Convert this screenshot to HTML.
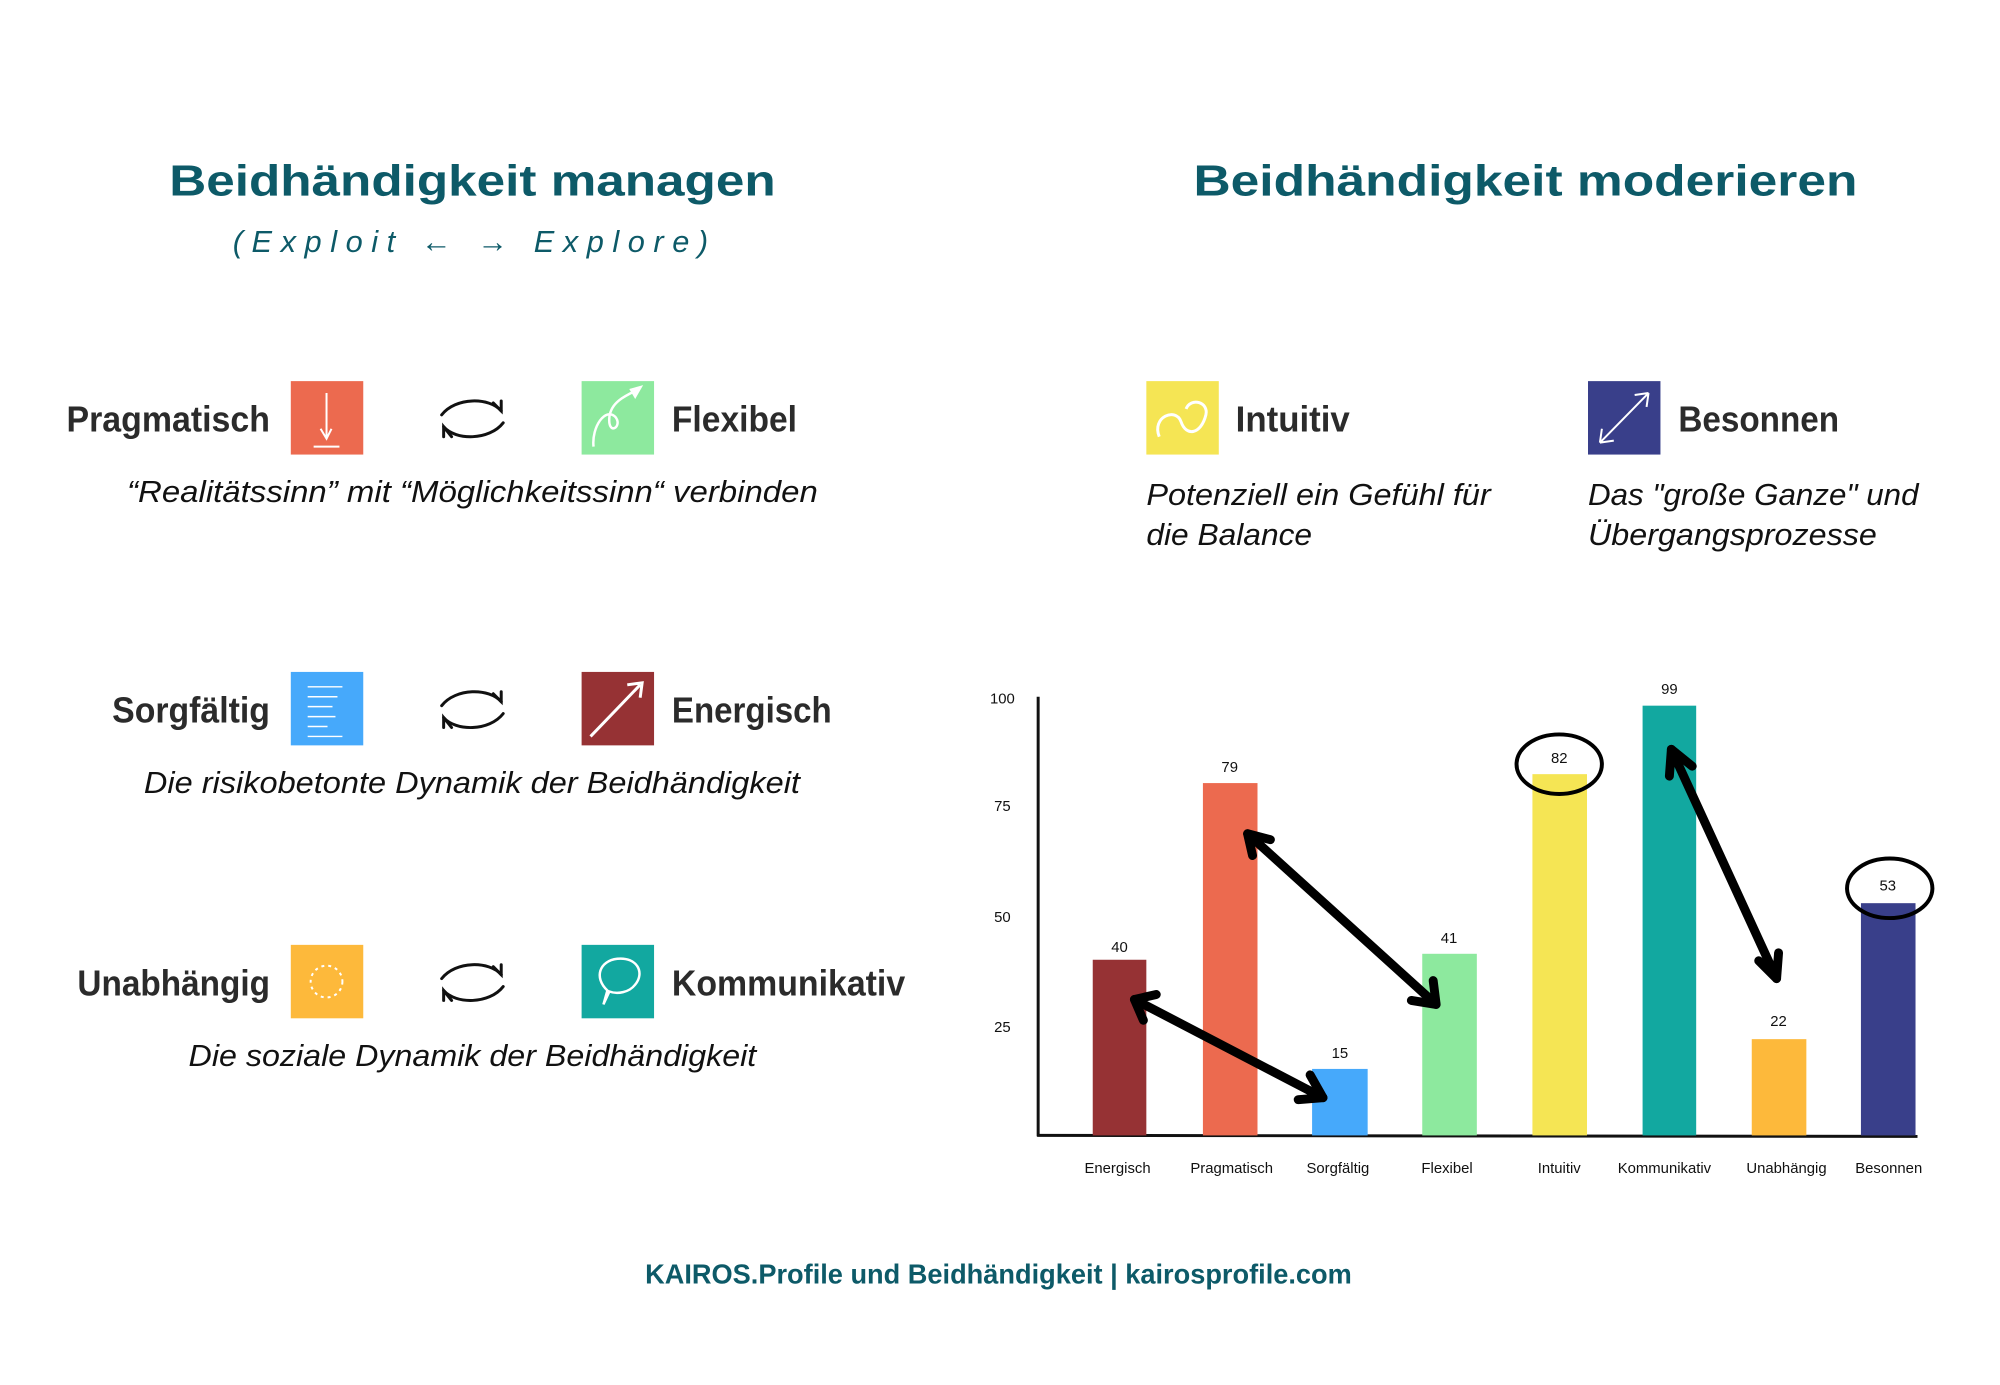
<!DOCTYPE html>
<html><head><meta charset="utf-8"><style>
html,body{margin:0;padding:0;background:#fff;}
svg{display:block;}
text{font-family:"Liberation Sans",sans-serif;}
.t{font-weight:bold;fill:#0d5a68;font-size:44px;}
.l{font-weight:bold;fill:#2b2b2b;font-size:36px;}
.q{font-style:italic;fill:#111;font-size:31px;}
.c{font-size:15px;fill:#111;}
</style></head><body>
<svg width="2000" height="1385" viewBox="0 0 2000 1385" xmlns="http://www.w3.org/2000/svg">
<defs>
<g id="swap" fill="none" stroke="#111" stroke-width="3" stroke-linecap="round">
<path d="M4 18 C18 0 52 0 64 14"/><path d="M56 6 L64 14 L64 4"/>
<path d="M66 26 C52 44 18 44 6 30"/><path d="M14 40 L6 30 L6 40"/>
</g>
</defs>
<g transform="scale(0.9925)">
<text class="t" x="476" y="197" text-anchor="middle" textLength="611" lengthAdjust="spacingAndGlyphs">Beidhändigkeit managen</text>
<text x="474" y="254" text-anchor="middle" font-size="31" font-style="italic" fill="#0d5a68" textLength="479" lengthAdjust="spacing">(Exploit ← → Explore)</text>
<text class="t" x="1537" y="197" text-anchor="middle" textLength="669" lengthAdjust="spacingAndGlyphs">Beidhändigkeit moderieren</text>

<text class="l" x="272" y="435" text-anchor="end" textLength="205" lengthAdjust="spacingAndGlyphs">Pragmatisch</text>
<rect x="293" y="384" width="73" height="74" fill="#ec6a4f"/>
<path d="M329 396 V440 M323 432 L329 442 L334 432 M316 450 H342" stroke="#fff" stroke-width="2" fill="none"/>
<use href="#swap" x="441" y="400"/>
<rect x="586" y="384" width="73" height="74" fill="#8de99e"/>
<path d="M598 450 C596 430 610 410 620 420 C628 430 612 440 614 420 C616 404 632 398 644 392" stroke="#fff" stroke-width="2.5" fill="none"/>
<path d="M634 392 L648 388 L640 402 Z" fill="#fff"/>
<text class="l" x="677" y="435" textLength="126" lengthAdjust="spacingAndGlyphs">Flexibel</text>
<text class="q" x="128" y="506" textLength="696" lengthAdjust="spacingAndGlyphs">“Realitätssinn” mit “Möglichkeitssinn“ verbinden</text>

<text class="l" x="272" y="728" text-anchor="end" textLength="159" lengthAdjust="spacingAndGlyphs">Sorgfältig</text>
<rect x="293" y="677" width="73" height="74" fill="#46a9fb"/>
<path d="M310 692 H345 M310 702 H340 M310 712 H335 M310 722 H338 M310 732 H330 M310 742 H345" stroke="#fff" stroke-width="1.5"/>
<use href="#swap" x="441" y="693"/>
<rect x="586" y="677" width="73" height="74" fill="#963234"/>
<path d="M595 742 L645 690 M632 690 L647 688 L645 703" stroke="#fff" stroke-width="3" fill="none"/>
<text class="l" x="677" y="728" textLength="161" lengthAdjust="spacingAndGlyphs">Energisch</text>
<text class="q" x="145" y="799" textLength="661" lengthAdjust="spacingAndGlyphs">Die risikobetonte Dynamik der Beidhändigkeit</text>

<text class="l" x="272" y="1003" text-anchor="end" textLength="194" lengthAdjust="spacingAndGlyphs">Unabhängig</text>
<rect x="293" y="952" width="73" height="74" fill="#fdb93b"/>
<circle cx="329" cy="989" r="16" stroke="#fff" stroke-width="2" stroke-dasharray="3 4" fill="none"/>
<use href="#swap" x="441" y="968"/>
<rect x="586" y="952" width="73" height="74" fill="#12a8a0"/>
<path d="M608 1012 L612 998 C598 985 604 968 622 966 C642 964 650 980 640 992 C634 1000 622 1002 614 999 Z" stroke="#fff" stroke-width="2.5" fill="none"/>
<text class="l" x="677" y="1003" textLength="235" lengthAdjust="spacingAndGlyphs">Kommunikativ</text>
<text class="q" x="190" y="1074" textLength="572" lengthAdjust="spacingAndGlyphs">Die soziale Dynamik der Beidhändigkeit</text>

<rect x="1155" y="384" width="73" height="74" fill="#f5e554"/>
<path d="M1168 440 C1160 420 1185 410 1190 425 C1195 440 1210 438 1215 418 C1218 405 1200 400 1195 412" stroke="#fff" stroke-width="3" fill="none"/>
<text class="l" x="1245" y="435" textLength="115" lengthAdjust="spacingAndGlyphs">Intuitiv</text>
<rect x="1600" y="384" width="73" height="74" fill="#393f8a"/>
<path d="M1612 446 L1661 396 M1612 446 L1614 432 M1612 446 L1626 444 M1661 396 L1647 398 M1661 396 L1659 410" stroke="#fff" stroke-width="2" fill="none"/>
<text class="l" x="1691" y="435" textLength="162" lengthAdjust="spacingAndGlyphs">Besonnen</text>
<text class="q" x="1155" y="509" textLength="347" lengthAdjust="spacingAndGlyphs">Potenziell ein Gefühl für</text>
<text class="q" x="1155" y="549" textLength="167" lengthAdjust="spacingAndGlyphs">die Balance</text>
<text class="q" x="1600" y="509" textLength="333" lengthAdjust="spacingAndGlyphs">Das "große Ganze" und</text>
<text class="q" x="1600" y="549" textLength="291" lengthAdjust="spacingAndGlyphs">Übergangsprozesse</text>

<g class="c" text-anchor="middle">
<text x="1010" y="709">100</text><text x="1010" y="817">75</text><text x="1010" y="929">50</text><text x="1010" y="1040">25</text>
</g>
<line x1="1046" y1="702" x2="1046" y2="1145" stroke="#111" stroke-width="3"/>
<line x1="1045" y1="1144" x2="1932" y2="1145" stroke="#111" stroke-width="3"/>
<g>
<rect x="1101" y="967" width="54" height="177" fill="#963234"/>
<rect x="1212" y="789" width="55" height="355" fill="#ec6a4f"/>
<rect x="1322" y="1077" width="56" height="67" fill="#46a9fb"/>
<rect x="1433" y="961" width="55" height="183" fill="#8de99e"/>
<rect x="1544" y="780" width="55" height="364" fill="#f5e554"/>
<rect x="1655" y="711" width="54" height="433" fill="#12a8a0"/>
<rect x="1765" y="1047" width="55" height="97" fill="#fdb93b"/>
<rect x="1875" y="910" width="55" height="234" fill="#393f8a"/>
</g>
<g class="c" text-anchor="middle">
<text x="1128" y="959">40</text><text x="1239" y="778">79</text><text x="1350" y="1066">15</text><text x="1460" y="950">41</text>
<text x="1571" y="769">82</text><text x="1682" y="699">99</text><text x="1792" y="1034">22</text><text x="1902" y="897">53</text>
</g>
<g class="c" text-anchor="middle">
<text x="1126" y="1182">Energisch</text><text x="1241" y="1182">Pragmatisch</text><text x="1348" y="1182">Sorgfältig</text><text x="1458" y="1182">Flexibel</text>
<text x="1571" y="1182">Intuitiv</text><text x="1677" y="1182">Kommunikativ</text><text x="1800" y="1182">Unabhängig</text><text x="1903" y="1182">Besonnen</text>
</g>
<g fill="none" stroke="#000" stroke-width="4">
<ellipse cx="1571" cy="770" rx="43" ry="30"/>
<ellipse cx="1904" cy="895" rx="43" ry="30"/>
</g>
<g fill="none" stroke="#000" stroke-width="9" stroke-linecap="round" stroke-linejoin="round">
<path d="M1143 1007 L1333 1106"/><path d="M1165 1002 L1143 1007 L1152 1028"/><path d="M1320 1083 L1333 1106 L1308 1108"/>
<path d="M1257 840 L1447 1012"/><path d="M1280 846 L1257 840 L1262 862"/><path d="M1444 988 L1447 1012 L1422 1008"/>
<path d="M1684 755 L1790 986"/><path d="M1705 772 L1684 755 L1682 782"/><path d="M1792 960 L1790 986 L1772 968"/>
</g>

<text x="1006" y="1293" text-anchor="middle" font-size="28" font-weight="bold" fill="#0d5a68" textLength="712" lengthAdjust="spacingAndGlyphs">KAIROS.Profile und Beidhändigkeit  |  kairosprofile.com</text>
</g>
</svg>
</body></html>
